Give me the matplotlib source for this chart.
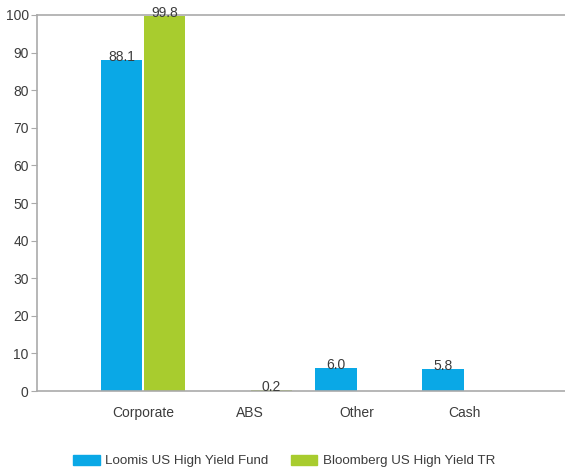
import matplotlib
matplotlib.use("Agg")
import matplotlib.pyplot as plt
import numpy as np
from matplotlib.patches import Patch

categories = ["Corporate", "ABS", "Other", "Cash"]
loomis = [88.1, None, 6.0, 5.8]
bloomberg = [99.8, 0.2, None, None]
series_names = ["Loomis US High Yield Fund", "Bloomberg US High Yield TR"]
yticks = list(range(0, 101, 10))

plt.rcParams['font.family'] = ['Liberation Sans', 'DejaVu Sans']

fig = plt.figure(figsize=(5.65, 4.73), dpi=100)
ax = fig.add_axes([37/565, 1-391/473, 1-37/565, (391-15)/473])

blue = "#0AA8E6"
green = "#A8CC2E"
x = np.arange(len(categories))
w = 0.39
off = 0.2
txt = "#3c3c3c"
fs = 10

for i, v in enumerate(loomis):
    if v is not None:
        ax.bar(x[i]-off, v, width=w, color=blue)
        ax.text(x[i]-off, v - 1.0, f"{v:.1f}", ha="center", va="bottom", fontsize=fs, color=txt)
for i, v in enumerate(bloomberg):
    if v is not None:
        ax.bar(x[i]+off, v, width=w, color=green)
        ax.text(x[i]+off, v - 1.0, f"{v:.1f}", ha="center", va="bottom", fontsize=fs, color=txt)

ax.set_xlim(-0.99, 3.94)
ax.set_ylim(0, 100)
ax.set_yticks(yticks)
ax.set_xticks(x)
ax.set_xticklabels(categories)
ax.tick_params(axis="x", length=0, pad=11, labelsize=fs, colors=txt)
ax.tick_params(axis="y", length=4, width=0.8, color="#aaaaaa", labelsize=fs, labelcolor=txt, pad=2)
for s in ["left", "top", "bottom"]:
    ax.spines[s].set_color("#aaaaaa")
    ax.spines[s].set_linewidth(1.2)
ax.spines["right"].set_visible(False)

handles = [Patch(color=blue), Patch(color=green)]
fig.legend(handles, series_names, loc="center", bbox_to_anchor=(284/565, 1-461/473), ncol=2,
           frameon=False, fontsize=9.6, handlelength=2.0, handleheight=0.8, columnspacing=1.7,
           labelcolor=txt, handletextpad=0.4)

fig.savefig("out.png", dpi=100)
